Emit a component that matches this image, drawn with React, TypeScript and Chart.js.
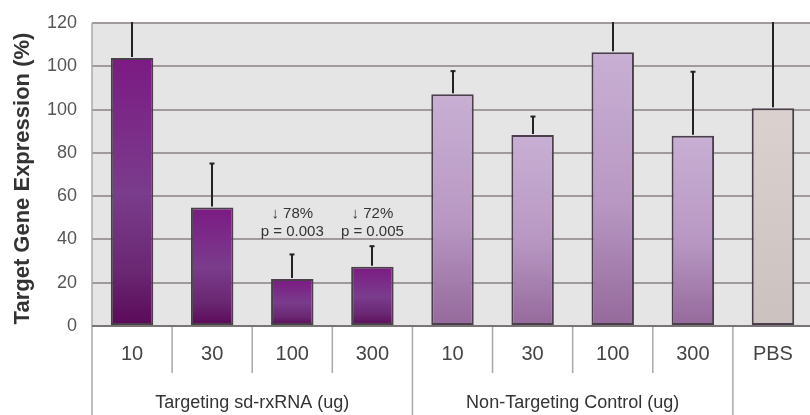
import React, { useEffect, useRef } from "react";
import { Chart, registerables } from "chart.js";

Chart.register(...registerables);

const categories = ["10", "30", "100", "300", "10", "30", "100", "300", "PBS"];
const groups = [
  { label: "Targeting sd-rxRNA (ug)", start: 0, end: 3 },
  { label: "Non-Targeting Control (ug)", start: 4, end: 7 },
  { label: "", start: 8, end: 8 },
];
const barValues = [123.8, 54.8, 21.7, 27.4, 107.1, 88.3, 126.5, 87.9, 100.6];
const errorTops = [150, 75.3, 33.3, 37.1, 118, 97, 150, 117.7, 150];
const barKinds = ["t", "t", "t", "t", "n", "n", "n", "n", "p"];
const yTickLabels = ["0", "20", "40", "60", "80", "100", "100", "120"];
const annotations = [
  { index: 2, lines: ["\u2193 78%", "p = 0.003"] },
  { index: 3, lines: ["\u2193 72%", "p = 0.005"] },
];
const yTitle = "Target Gene Expression (%)";

const FONT = "'Liberation Sans', Arial, Helvetica, sans-serif";

function gradientFor(ctx: CanvasRenderingContext2D, kind: string, top: number, bottom: number) {
  const g = ctx.createLinearGradient(0, top, 0, bottom);
  if (kind === "t") {
    g.addColorStop(0, "#7c1a83");
    g.addColorStop(0.5, "#7a3c8c");
    g.addColorStop(0.8, "#6a2772");
    g.addColorStop(1, "#5a0858");
  } else if (kind === "n") {
    g.addColorStop(0, "#c9afd3");
    g.addColorStop(0.55, "#b898c3");
    g.addColorStop(1, "#94699b");
  } else {
    g.addColorStop(0, "#dbd2d0");
    g.addColorStop(1, "#cbc1bf");
  }
  return g;
}

const decorPlugin = {
  id: "decor",
  beforeDraw(chart: any) {
    const { ctx, chartArea } = chart;
    ctx.save();
    ctx.fillStyle = "#e5e5e5";
    ctx.fillRect(chartArea.left, chartArea.top, chartArea.right - chartArea.left, chartArea.bottom - chartArea.top);
    ctx.restore();
  },
  afterDatasetsDraw(chart: any) {
    const { ctx, chartArea } = chart;
    const meta = chart.getDatasetMeta(0);
    const ys = chart.scales.y;
    // error bars
    ctx.save();
    ctx.beginPath();
    ctx.rect(chartArea.left, chartArea.top - 1, chartArea.right - chartArea.left, chartArea.bottom - chartArea.top + 1);
    ctx.clip();
    ctx.strokeStyle = "#222";
    ctx.lineWidth = 2;
    meta.data.forEach((el: any, i: number) => {
      const x = Math.round(el.x);
      const yTop = ys.getPixelForValue(errorTops[i]);
      ctx.beginPath();
      ctx.moveTo(x, el.y - 1);
      ctx.lineTo(x, yTop);
      ctx.stroke();
      if (yTop > chartArea.top) {
        ctx.beginPath();
        ctx.moveTo(x - 2.5, yTop + 0.5);
        ctx.lineTo(x + 2.5, yTop + 0.5);
        ctx.stroke();
      }
    });
    ctx.restore();

    // annotations
    ctx.save();
    ctx.fillStyle = "#333";
    ctx.font = `15px ${FONT}`;
    ctx.textAlign = "center";
    ctx.textBaseline = "middle";
    annotations.forEach((a) => {
      const x = meta.data[a.index].x;
      const y0 = ys.getPixelForValue(52);
      a.lines.forEach((ln, k) => ctx.fillText(ln, x, y0 + k * 18));
    });
    ctx.restore();
  },
  afterDraw(chart: any) {
    const { ctx, chartArea } = chart;
    const xs = chart.scales.x;
    const H = chart.height;
    const step = xs.getPixelForValue(1) - xs.getPixelForValue(0);
    ctx.save();
    // separators
    ctx.strokeStyle = "#a8a8a8";
    ctx.lineWidth = 1.5;
    const groupStarts = groups.map((g) => g.start);
    for (let i = 0; i <= categories.length; i++) {
      const x = xs.getPixelForValue(0) - step / 2 + i * step;
      const long = groupStarts.includes(i);
      ctx.beginPath();
      ctx.moveTo(x, long && i === 0 ? chartArea.top : chartArea.bottom);
      ctx.lineTo(x, long ? H : chartArea.bottom + 47);
      ctx.stroke();
    }
    // zero line on top
    ctx.strokeStyle = "#7a7575";
    ctx.lineWidth = 2;
    ctx.beginPath();
    ctx.moveTo(chartArea.left, chartArea.bottom);
    ctx.lineTo(chartArea.right, chartArea.bottom);
    ctx.stroke();
    // category labels
    ctx.fillStyle = "#444";
    ctx.font = `20px ${FONT}`;
    ctx.textAlign = "center";
    ctx.textBaseline = "middle";
    categories.forEach((c, i) => ctx.fillText(c, xs.getPixelForValue(i), chartArea.bottom + 28));
    // group labels
    ctx.fillStyle = "#333";
    ctx.font = `18px ${FONT}`;
    groups.forEach((g) => {
      if (!g.label) return;
      const x = (xs.getPixelForValue(g.start) + xs.getPixelForValue(g.end)) / 2;
      ctx.fillText(g.label, x, chartArea.bottom + 77);
    });
    // y title
    ctx.save();
    ctx.translate(23, (chartArea.top + chartArea.bottom) / 2 + 4);
    ctx.rotate(-Math.PI / 2);
    ctx.fillStyle = "#333";
    ctx.font = `bold 22px ${FONT}`;
    ctx.fillText(yTitle, 0, 0);
    ctx.restore();
    ctx.restore();
  },
};

export default function App() {
  const ref = useRef<HTMLCanvasElement | null>(null);
  useEffect(() => {
    document.body.style.margin = "0";
    const canvas = ref.current!;
    const chart = new Chart(canvas, {
      type: "bar",
      data: {
        labels: categories,
        datasets: [
          {
            data: barValues,
            backgroundColor: (c: any) => {
              const chartObj = c.chart;
              const ys = chartObj.scales?.y;
              if (!ys || c.dataIndex === undefined) return "#7a3c8c";
              const top = ys.getPixelForValue(barValues[c.dataIndex]);
              const bottom = ys.getPixelForValue(0);
              if (!isFinite(top) || !isFinite(bottom) || top === bottom) return "#7a3c8c";
              return gradientFor(chartObj.ctx, barKinds[c.dataIndex], top, bottom);
            },
            borderColor: "#4c3f4c",
            borderWidth: 2,
            borderSkipped: false,
            barPercentage: 0.53,
            categoryPercentage: 1,
          },
        ],
      },
      options: {
        responsive: false,
        animation: false,
        devicePixelRatio: 1,
        layout: { padding: { top: 23, left: 0, right: 0, bottom: 0 } },
        plugins: { legend: { display: false }, tooltip: { enabled: false } },
        scales: {
          x: {
            offset: true,
            grid: { display: false },
            border: { display: false },
            ticks: { display: false },
            afterFit: (s: any) => {
              s.height = 89;
              s.paddingLeft = 0;
              s.paddingRight = 0;
            },
          },
          y: {
            min: 0,
            max: 140,
            ticks: {
              stepSize: 20,
              padding: 15,
              color: "#555",
              font: { size: 18, family: FONT },
              callback: (_v: any, i: number) => yTickLabels[i],
            },
            grid: { color: "#a09a9a", lineWidth: 2, drawTicks: false },
            border: { display: false },
            afterFit: (s: any) => {
              s.width = 92;
              s.paddingTop = 0;
              s.paddingBottom = 0;
            },
          },
        },
      },
      plugins: [decorPlugin],
    } as any);
    return () => chart.destroy();
  }, []);
  return (
    <div style={{ position: "fixed", left: 0, top: 0, width: 810, height: 415, overflow: "hidden", background: "#fff" }}>
      <canvas ref={ref} width={813} height={415} style={{ width: 813, height: 415, display: "block" }} />
    </div>
  );
}
